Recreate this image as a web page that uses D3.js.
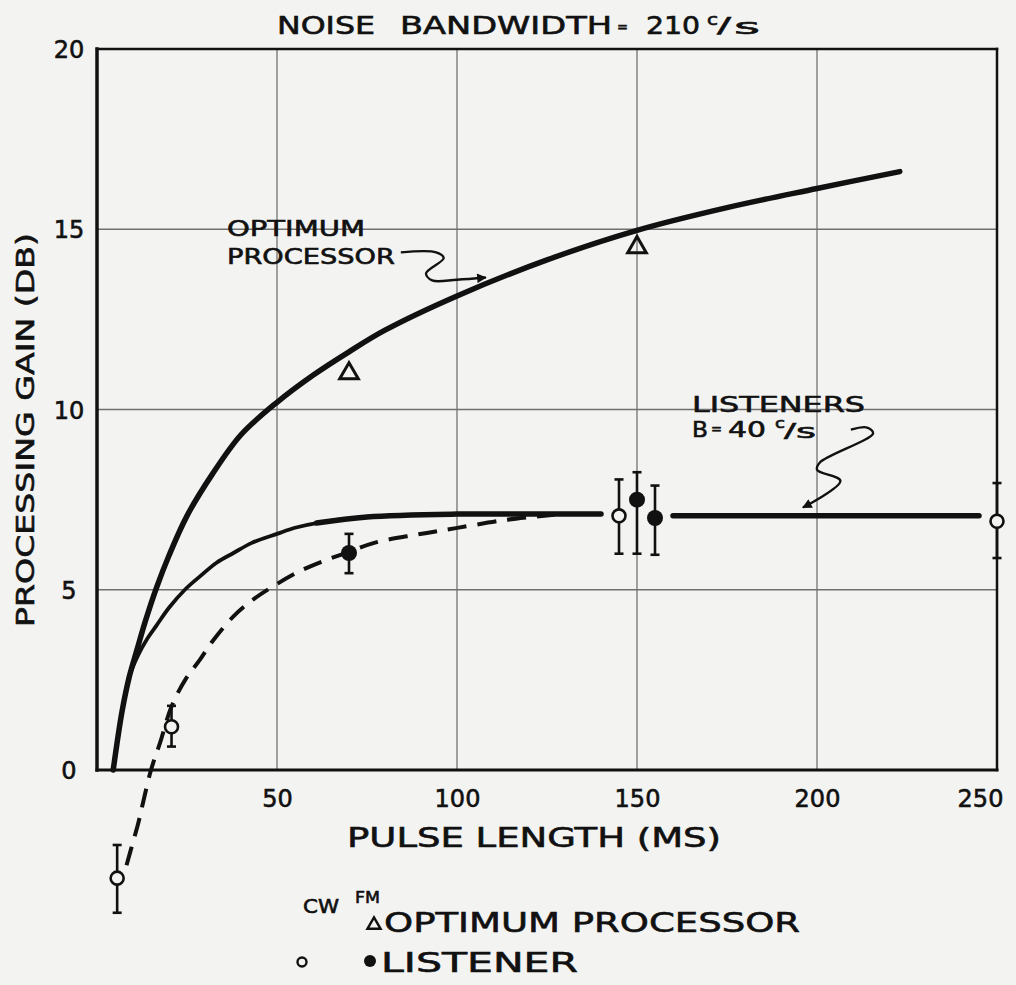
<!DOCTYPE html>
<html>
<head>
<meta charset="utf-8">
<script src="https://cdn.jsdelivr.net/npm/d3@7"></script>
<style>
  html, body { margin: 0; padding: 0; background: #f3f3f1; }
  svg { display: block; }
  text { font-family: "DejaVu Sans", sans-serif; fill: #111; stroke: #111; stroke-width: 0.6px; }
</style>
</head>
<body>
<svg id="chart" width="1016" height="985"></svg>
<script>
// ---------- data ----------
const xTicks = [50, 100, 150, 200, 250];
const yTicks = [0, 5, 10, 15, 20];
const gridX = [50, 100, 150, 200];
const gridY = [5, 10, 15];

// optimum processor curve
const optX = [4.5, 5.5, 7, 9, 11, 13.5, 16.5, 20, 25, 32, 40, 50, 60, 70, 80, 100, 125, 150, 175, 200, 223];
const optY = [0, 0.7, 1.65, 2.6, 3.3, 4.15, 5.05, 5.95, 7.05, 8.2, 9.3, 10.2, 10.95, 11.6, 12.2, 13.15, 14.15, 14.97, 15.6, 16.13, 16.6];

// listeners B = 40 c/s curve
const lisX = [4.5, 7, 9, 11.5, 14, 16.6, 20, 24.4, 28.6, 33.2, 37.9, 43, 50, 55, 61, 75, 100, 120, 140];
const lisY = [0, 1.65, 2.6, 3.2, 3.65, 4.02, 4.5, 5.0, 5.37, 5.75, 6.02, 6.3, 6.55, 6.72, 6.85, 7.02, 7.1, 7.1, 7.1];
const lisFlatX = [160, 245];
const lisFlatY = [7.05, 7.05];

// dashed curve
const dashX = [8.2, 10, 11.4, 12.8, 15, 17.5, 20.7, 24.5, 28.6, 32.3, 37.9, 43, 49, 56, 63, 70, 77, 88.8, 99.7, 113.8, 127];
const dashY = [-2.64, -2.0, -1.5, -0.9, 0.0, 0.75, 1.76, 2.5, 3.06, 3.6, 4.26, 4.7, 5.1, 5.5, 5.8, 6.05, 6.3, 6.53, 6.71, 6.94, 7.08];

// optimum processor measured (triangles)
const triX = [70, 150];
const triY = [11.0, 14.5];

// CW listener (open circles)
const cwX = [5.6, 20.7, 145, 250];
const cwY = [-3.0, 1.2, 7.05, 6.9];
const cwLo = [-3.96, 0.65, 6.0, 5.88];
const cwHi = [-2.08, 1.78, 8.06, 7.96];

// FM listener (filled circles)
const fmX = [70, 150, 155];
const fmY = [6.02, 7.5, 6.99];
const fmLo = [5.46, 6.0, 5.97];
const fmHi = [6.55, 8.26, 7.89];

// annotation leader paths (data units)
const annOptX = [84.4, 94.2, 96.3, 91.4, 93.1, 100, 108];
const annOptY = [14.36, 14.36, 14.2, 13.78, 13.58, 13.6, 13.66];
const annLisX = [209.4, 213.9, 215.6, 200.8, 200, 206.5, 196.1];
const annLisY = [9.44, 9.5, 9.34, 8.53, 8.33, 8.02, 7.28];

// ---------- drawing ----------
const BG = "#f3f3f1";
const svg = d3.select("#chart");
const x = d3.scaleLinear().domain([0, 250]).range([97, 997]);
const y = d3.scaleLinear().domain([0, 20]).range([770, 49]);

const zip = (xs, ys) => xs.map((v, i) => [v, ys[i]]);
const line = d3.line().x(d => x(d[0])).y(d => y(d[1])).curve(d3.curveCatmullRom.alpha(0.5));

// arrow marker
svg.append("defs").append("marker")
  .attr("id", "arrow").attr("viewBox", "0 0 10 10").attr("refX", 9).attr("refY", 5)
  .attr("markerWidth", 5).attr("markerHeight", 4).attr("orient", "auto")
  .attr("markerUnits", "strokeWidth")
  .append("path").attr("d", "M0,0 L10,5 L0,10 Z").attr("fill", "#111");

// grid
svg.append("g").selectAll("line").data(gridX).join("line")
  .attr("x1", d => x(d)).attr("x2", d => x(d)).attr("y1", y(20)).attr("y2", y(0))
  .attr("stroke", "#5a5a5a").attr("stroke-width", 1.1);
svg.append("g").selectAll("line").data(gridY).join("line")
  .attr("y1", d => y(d)).attr("y2", d => y(d)).attr("x1", x(0)).attr("x2", x(250))
  .attr("stroke", "#707070").attr("stroke-width", 1.3);

// frame
const frame = svg.append("g").attr("stroke", "#111").attr("stroke-linecap", "square");
frame.append("line").attr("x1", x(0)).attr("x2", x(0)).attr("y1", y(20)).attr("y2", y(0)).attr("stroke-width", 3.5);
frame.append("line").attr("x1", x(0)).attr("x2", x(250)).attr("y1", y(0)).attr("y2", y(0)).attr("stroke-width", 3);
frame.append("line").attr("x1", x(0)).attr("x2", x(250)).attr("y1", y(20)).attr("y2", y(20)).attr("stroke-width", 2.5);
frame.append("line").attr("x1", x(250)).attr("x2", x(250)).attr("y1", y(20)).attr("y2", y(0)).attr("stroke-width", 2.5);

// axes (labels only)
const xAxis = svg.append("g").attr("transform", `translate(0,${y(0)})`)
  .call(d3.axisBottom(x).tickValues(xTicks).tickSize(0).tickPadding(37).tickFormat(d3.format("d")));
xAxis.select(".domain").remove();
xAxis.selectAll("text").style("font-size", "24px").style("font-family", '"DejaVu Sans", sans-serif')
  .attr("fill", "#111").attr("dy", 0)
  .attr("dx", d => d === 250 ? -17 : 0);

const yAxis = svg.append("g").attr("transform", `translate(${x(0)},0)`)
  .call(d3.axisLeft(y).tickValues(yTicks).tickSize(0).tickPadding(28).tickFormat(d3.format("d")));
yAxis.select(".domain").remove();
yAxis.selectAll("text").style("font-size", "24px").style("font-family", '"DejaVu Sans", sans-serif')
  .attr("fill", "#111").attr("text-anchor", "middle").attr("dy", "0.36em");

// curves
svg.append("path").datum(zip(optX, optY)).attr("d", line)
  .attr("fill", "none").attr("stroke", "#111").attr("stroke-width", 5.5).attr("stroke-linecap", "round");
svg.append("path").datum(zip(lisX, lisY)).attr("d", line)
  .attr("fill", "none").attr("stroke", "#111").attr("stroke-width", 3.8).attr("stroke-linecap", "round");
const lisThick = zip(lisX, lisY).filter(d => d[0] >= 61);
svg.append("path").datum(lisThick).attr("d", line)
  .attr("fill", "none").attr("stroke", "#111").attr("stroke-width", 5.5).attr("stroke-linecap", "round");
svg.append("path").datum(zip(lisFlatX, lisFlatY)).attr("d", line)
  .attr("fill", "none").attr("stroke", "#111").attr("stroke-width", 5.5).attr("stroke-linecap", "round");
svg.append("path").datum(zip(dashX, dashY)).attr("d", line)
  .attr("fill", "none").attr("stroke", "#111").attr("stroke-width", 4)
  .attr("stroke-dasharray", "19 11");

// annotation leaders
[[annOptX, annOptY], [annLisX, annLisY]].forEach(([ax, ay]) => {
  svg.append("path").datum(zip(ax, ay)).attr("d", line)
    .attr("fill", "none").attr("stroke", "#111").attr("stroke-width", 2.4)
    .attr("stroke-linejoin", "round").attr("marker-end", "url(#arrow)");
});

// error bars
function errBars(xs, lo, hi) {
  const g = svg.append("g").attr("stroke", "#111").attr("stroke-width", 2.6);
  xs.forEach((v, i) => {
    g.append("line").attr("x1", x(v)).attr("x2", x(v)).attr("y1", y(lo[i])).attr("y2", y(hi[i]));
    g.append("line").attr("x1", x(v) - 4.5).attr("x2", x(v) + 4.5).attr("y1", y(lo[i])).attr("y2", y(lo[i]));
    g.append("line").attr("x1", x(v) - 4.5).attr("x2", x(v) + 4.5).attr("y1", y(hi[i])).attr("y2", y(hi[i]));
  });
}
errBars(cwX, cwLo, cwHi);
errBars(fmX, fmLo, fmHi);

svg.append("g").selectAll("circle").data(zip(cwX, cwY)).join("circle")
  .attr("cx", d => x(d[0])).attr("cy", d => y(d[1])).attr("r", 6.5)
  .attr("fill", BG).attr("stroke", "#111").attr("stroke-width", 2.6);
svg.append("g").selectAll("circle").data(zip(fmX, fmY)).join("circle")
  .attr("cx", d => x(d[0])).attr("cy", d => y(d[1])).attr("r", 8)
  .attr("fill", "#111");

const tri = d3.symbol().type(d3.symbolTriangle).size(150);
svg.append("g").selectAll("path").data(zip(triX, triY)).join("path")
  .attr("d", tri).attr("transform", d => `translate(${x(d[0])},${y(d[1])})`)
  .attr("fill", "none").attr("stroke", "#111").attr("stroke-width", 3).attr("stroke-linejoin", "miter");

// ---------- texts ----------
function txt(s, px, py, size, len, opts = {}) {
  const t = svg.append("text").attr("x", px).attr("y", py).style("font-size", size + "px").text(s);
  if (len) t.attr("textLength", len).attr("lengthAdjust", "spacingAndGlyphs");
  if (opts.anchor) t.attr("text-anchor", opts.anchor);
  if (opts.transform) t.attr("transform", opts.transform);
  return t;
}
// title
txt("NOISE", 277, 34, 24, 98);
txt("BANDWIDTH", 400, 34, 24, 212);
txt("=", 617, 32, 15, 11);
txt("210", 646, 34, 24, 54);
txt("c", 707, 25, 15, 11);
txt("/", 717, 33, 22, 14);
txt("s", 734, 34, 21, 26);

// y label
txt("PROCESSING GAIN (DB)", 0, 0, 25, 394, { anchor: "middle", transform: "translate(34,430) rotate(-90)" });
// x label
txt("PULSE LENGTH (MS)", 534, 847, 27, 374, { anchor: "middle" });

// annotation labels
txt("OPTIMUM", 227, 236, 21, 138);
txt("PROCESSOR", 227, 264, 21, 168);
txt("LISTENERS", 692, 412, 22, 173);
txt("B", 692, 437, 22, 16);
txt("=", 711, 434, 14, 11);
txt("40", 728, 437, 22, 38);
txt("c", 775, 428, 14, 10);
txt("/", 784, 437, 19, 12);
txt("s", 796, 438, 19, 20);

// legend
txt("CW", 303, 913, 19, 36);
txt("FM", 355, 903, 16, 25);
svg.append("path").attr("d", d3.symbol().type(d3.symbolTriangle).size(75))
  .attr("transform", "translate(374,925)").attr("fill", "none").attr("stroke", "#111").attr("stroke-width", 2.4);
txt("OPTIMUM PROCESSOR", 384, 932, 27, 416);
svg.append("circle").attr("cx", 302).attr("cy", 962).attr("r", 4.5)
  .attr("fill", "none").attr("stroke", "#111").attr("stroke-width", 2.4);
svg.append("circle").attr("cx", 370).attr("cy", 961).attr("r", 6).attr("fill", "#111");
txt("LISTENER", 381, 972, 27, 197);
</script>
</body>
</html>
